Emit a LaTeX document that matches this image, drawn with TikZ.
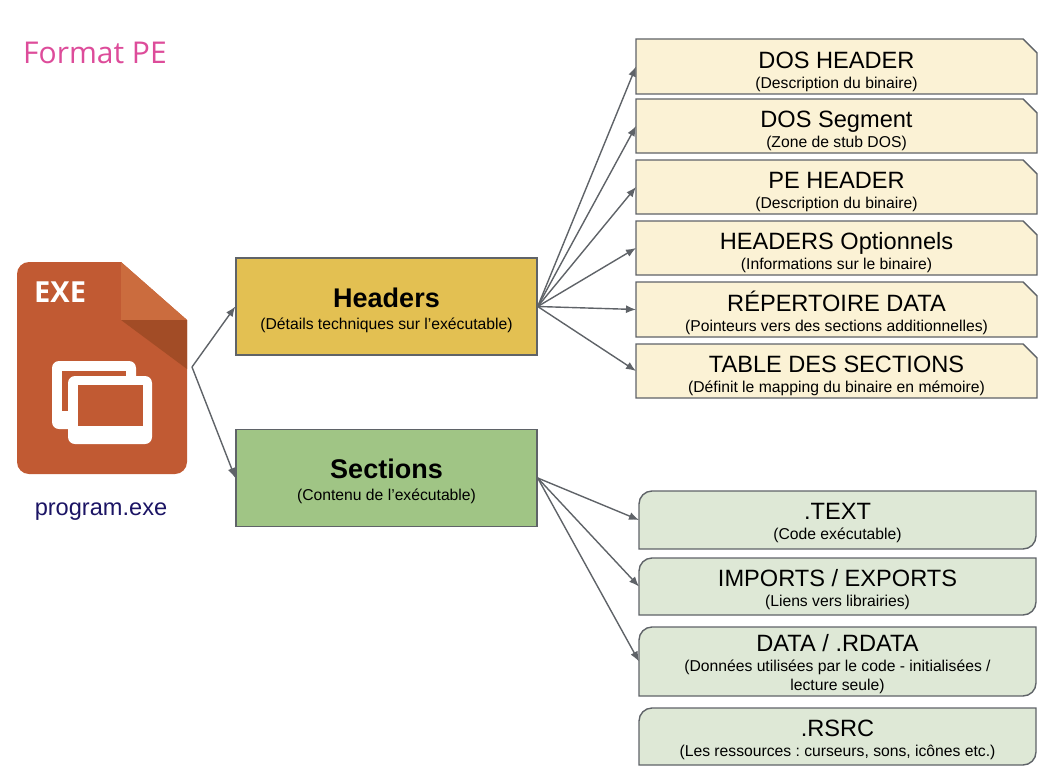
\documentclass[tikz,border=0pt]{standalone}
\usepackage{fontspec}
\setmainfont{Liberation Sans}
\newfontfamily\opensans{Open Sans}
\usetikzlibrary{arrows.meta}
\definecolor{cpink}{HTML}{DD4C9A}
\definecolor{cline}{HTML}{5F6368}
\definecolor{cyel}{HTML}{E3C052}
\definecolor{cgrn}{HTML}{A0C585}
\definecolor{clyel}{HTML}{FBF2D5}
\definecolor{clgrn}{HTML}{DEE8D6}
\definecolor{cexe}{HTML}{C15A33}
\definecolor{cfold}{HTML}{CB6C3E}
\definecolor{cshade}{HTML}{A24C26}
\definecolor{cnavy}{HTML}{1B1464}
\tikzset{
  subfont/.style={font=\fontsize{15.7}{18}\selectfont\frenchspacing},
  boxtext/.style={align=center,inner sep=0pt,outer sep=0pt,text=black,subfont},
  mainbox/.style={draw=cline,line width=1.4pt,minimum width=301pt,minimum height=97pt,align=center,inner sep=0pt,subfont},
  outline/.style={draw=cline,line width=1.4pt},
  conn/.style={draw=cline,line width=1.4pt,-{Latex[length=10pt,width=8pt]}},
}
\newcommand{\ttl}[2]{{\fontsize{23.6}{27}\selectfont\rule{0pt}{#1}#2}}
\newcommand{\bigttl}[1]{{\fontsize{27}{30}\selectfont\bfseries\rule{0pt}{27pt}#1}}
% name, ytop, ybottom, title, subtitle
\newcommand{\snipbox}[5]{%
  \path[outline,fill=clyel] (636,#2) -- (1023,#2) -- (1037,#2+14) -- (1037,#3) -- (636,#3) -- cycle;
  \node[boxtext,minimum width=401pt,minimum height=#3pt-#2pt] (#1) at (836.5,{(#2+#3)/2}) {\ttl{27pt}{#4}\\[2pt]#5};
}
\newcommand{\roundbox}[5]{%
  \path[outline,fill=clgrn] (639,#3) -- (639,#2+13) arc[start angle=180,end angle=90,radius=13pt] -- (1036,#2) -- (1036,#3-13) arc[start angle=0,end angle=-90,radius=13pt] -- cycle;
  \node[boxtext,minimum width=397pt,minimum height=#3pt-#2pt] (#1) at (837.5,{(#2+#3)/2}) {\ttl{23pt}{#4}\\[2pt]#5};
}
\begin{document}
\begin{tikzpicture}[x=1pt,y=-1pt]
\useasboundingbox (0,0) rectangle (1051,781);
\node[anchor=west,inner sep=0pt,text=cpink] (title) at (23,53) {\opensans\fontsize{30}{34}\selectfont Format PE};
% icon
\path[fill=cexe] (29,262) -- (121,262) -- (187,320) -- (187,462) arc[start angle=0,end angle=-90,radius=12pt] -- (29,474) arc[start angle=-90,end angle=-180,radius=12pt] -- (17,274) arc[start angle=180,end angle=90,radius=12pt] -- cycle;
\path[fill=cfold] (121,262) -- (187,320) -- (121,320) -- cycle;
\path[fill=cshade] (121,320) -- (187,320) -- (187,369) -- cycle;
\path[fill=white,rounded corners=7pt] (52,361) rectangle (136,429);
\path[fill=cexe] (62,371) rectangle (126,411);
\path[fill=white,rounded corners=7pt] (68,376) rectangle (152,444);
\path[fill=cexe] (78,385) rectangle (143,426);
\node[anchor=west,inner sep=0pt,text=white] (exe) at (34,292) {\opensans\bfseries\fontsize{29}{32}\selectfont EXE};
\node[inner sep=0pt,text=cnavy] (prog) at (101,512) {\fontsize{23.6}{26}\selectfont program.exe};
\coordinate (junction) at (192,367);
% main boxes
\node[mainbox,fill=cyel] (hdr) at (386.5,306.5) {\bigttl{Headers}\\[4pt](Détails techniques sur l’exécutable)};
\node[mainbox,fill=cgrn] (sec) at (386.5,478) {\bigttl{Sections}\\[4pt](Contenu de l’exécutable)};
% header parts
\snipbox{b1}{39}{94}{DOS HEADER}{(Description du binaire)}
\snipbox{b2}{99}{153}{DOS Segment}{(Zone de stub DOS)}
\snipbox{b3}{160}{214}{PE HEADER}{(Description du binaire)}
\snipbox{b4}{221}{275}{HEADERS Optionnels}{(Informations sur le binaire)}
\snipbox{b5}{282}{337}{RÉPERTOIRE DATA}{(Pointeurs vers des sections additionnelles)}
\snipbox{b6}{344}{398}{TABLE DES SECTIONS}{(Définit le mapping du binaire en mémoire)}
% section parts
\roundbox{s1}{491}{549}{.TEXT}{(Code exécutable)}
\roundbox{s2}{558}{615}{IMPORTS / EXPORTS}{(Liens vers librairies)}
\roundbox{s3}{627}{696}{DATA / .RDATA}{(Données utilisées par le code - initialisées /\\[1pt]lecture seule)}
\roundbox{s4}{708}{765}{.RSRC}{(Les ressources : curseurs, sons, icônes etc.)}
% connectors
\draw[conn] (junction) -- (hdr.west);
\draw[conn] (junction) -- (sec.west);
\foreach \t in {b1,b2,b3,b4,b5,b6} \draw[conn] (hdr.east) -- (\t.west);
\foreach \t in {s1,s2,s3} \draw[conn] (sec.east) -- (\t.west);
\end{tikzpicture}
\end{document}
